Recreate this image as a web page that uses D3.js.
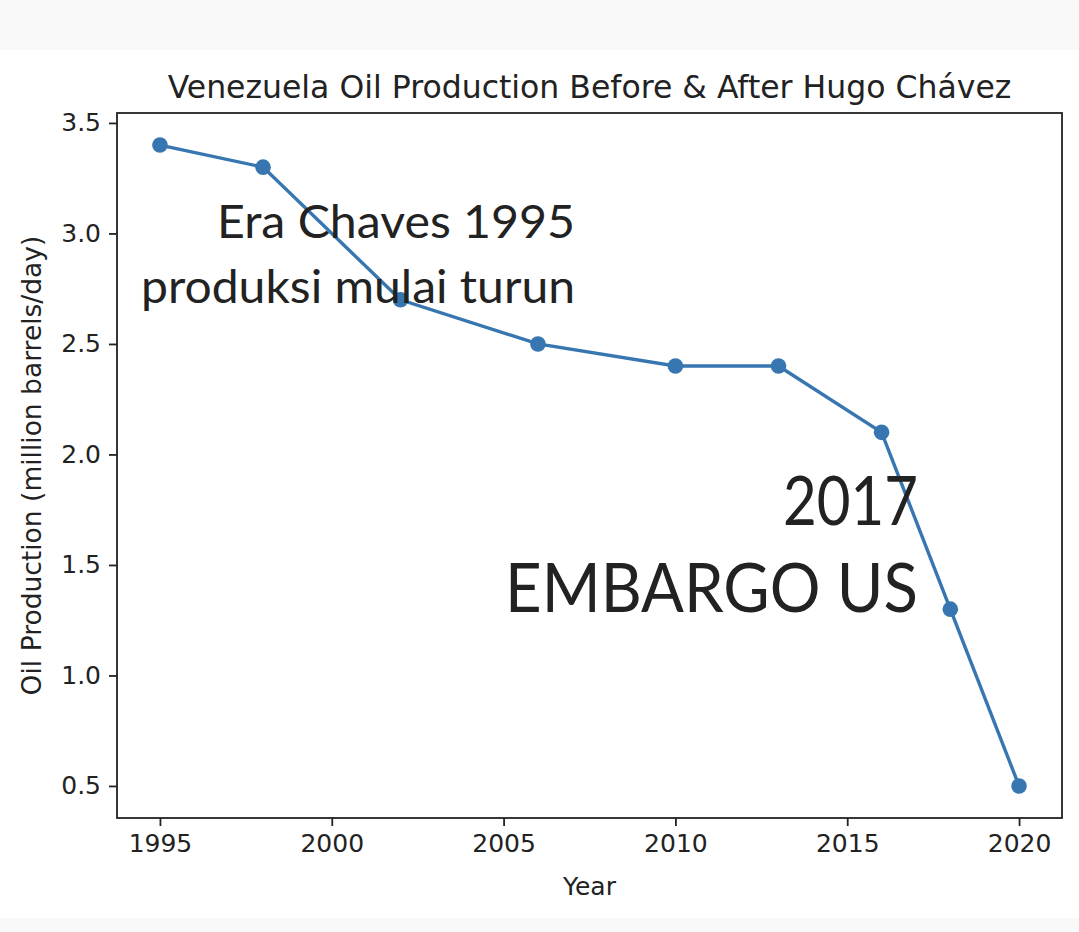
<!DOCTYPE html>
<html>
  <head>
    <title>Venezuela Oil Production</title>
    <script src="https://cdn.jsdelivr.net/npm/d3@7/dist/d3.min.js"></script>
    <style>
      body { margin: 0; background: #fff; }
    </style>
  </head>
  <body>
    <svg width="1079" height="932" id="mainsvg" style="display: block"></svg>
    <script>
      // data
      const years = [1995, 1998, 2002, 2006, 2010, 2013, 2016, 2018, 2020];
      const production = [3.4, 3.3, 2.7, 2.5, 2.4, 2.4, 2.1, 1.3, 0.5];
      const xTicks = [1995, 2000, 2005, 2010, 2015, 2020];
      const yTicks = [0.5, 1.0, 1.5, 2.0, 2.5, 3.0, 3.5];

      const svg = d3.select("#mainsvg");
      const width = +svg.attr("width");
      const height = +svg.attr("height");
      const margin = { left: 117, top: 113, right: 17, bottom: 114 };
      const innerWidth = width - margin.left - margin.right;
      const innerHeight = height - margin.top - margin.bottom;
      const blue = "#3776b0";
      const axisFont = "'DejaVu Sans', sans-serif";

      // grey bands of the screenshot
      svg.append("rect").attr("width", width).attr("height", 50).attr("fill", "#f9f9f9");
      svg.append("rect").attr("y", 918).attr("width", width).attr("height", 14).attr("fill", "#f9f9f9");

      // matplotlib style 5% margins
      const xPad = (d3.max(years) - d3.min(years)) * 0.05;
      const yPad = (d3.max(production) - d3.min(production)) * 0.05;
      const x = d3.scaleLinear()
        .domain([d3.min(years) - xPad, d3.max(years) + xPad])
        .range([0, innerWidth]);
      const y = d3.scaleLinear()
        .domain([d3.min(production) - yPad, d3.max(production) + yPad])
        .range([innerHeight, 0]);

      const g = svg.append("g")
        .attr("transform", `translate(${margin.left}, ${margin.top})`);

      // axes
      const xAxis = g.append("g")
        .attr("transform", `translate(0, ${innerHeight})`)
        .call(d3.axisBottom(x).tickValues(xTicks).tickFormat(d3.format("d")).tickSize(8).tickPadding(8));
      const yAxis = g.append("g")
        .call(d3.axisLeft(y).tickValues(yTicks).tickFormat(d3.format(".1f")).tickSize(8).tickPadding(8));

      [xAxis, yAxis].forEach((ax) => {
        ax.select(".domain").remove();
        ax.selectAll("line").attr("stroke", "#222").attr("stroke-width", 1.8);
        ax.selectAll("text")
          .attr("fill", "#222")
          .attr("font-family", axisFont)
          .attr("font-size", 25);
      });

      // frame
      g.append("rect")
        .attr("width", innerWidth)
        .attr("height", innerHeight)
        .attr("fill", "none")
        .attr("stroke", "#222")
        .attr("stroke-width", 1.8);

      const pts = years.map((yr, i) => ({ year: yr, value: production[i] }));

      const line = d3.line()
        .x((d) => x(d.year))
        .y((d) => y(d.value));

      g.append("path")
        .datum(pts)
        .attr("fill", "none")
        .attr("stroke", blue)
        .attr("stroke-width", 3.4)
        .attr("d", line);

      g.selectAll(".dot")
        .data(pts)
        .join("circle")
        .attr("class", "dot")
        .attr("cx", (d) => x(d.year))
        .attr("cy", (d) => y(d.value))
        .attr("r", 7.8)
        .attr("fill", blue);

      // title and axis labels
      svg.append("text")
        .attr("x", margin.left + innerWidth / 2)
        .attr("y", 98)
        .attr("text-anchor", "middle")
        .attr("font-family", axisFont)
        .attr("font-size", 31.5)
        .attr("fill", "#222")
        .text("Venezuela Oil Production Before & After Hugo Chávez");

      svg.append("text")
        .attr("x", margin.left + innerWidth / 2)
        .attr("y", 895)
        .attr("text-anchor", "middle")
        .attr("font-family", axisFont)
        .attr("font-size", 25)
        .attr("fill", "#222")
        .text("Year");

      svg.append("text")
        .attr("transform", `translate(41, ${margin.top + innerHeight / 2}) rotate(-90)`)
        .attr("text-anchor", "middle")
        .attr("font-family", axisFont)
        .attr("font-size", 26.5)
        .attr("fill", "#222")
        .text("Oil Production (million barrels/day)");

      // hand written notes on top of the chart
      const noteFont = "Lato, 'Open Sans', sans-serif";
      const notes = [
        { text: "Era Chaves 1995", x: 575, y: 238, size: 47, len: 358 },
        { text: "produksi mulai turun", x: 575, y: 303, size: 47, len: 434 },
        { text: "2017", x: 918, y: 525, size: 68, len: 135 },
        { text: "EMBARGO US", x: 918, y: 612, size: 68, len: 413 },
      ];
      svg.selectAll(".note")
        .data(notes)
        .join("text")
        .attr("class", "note")
        .attr("x", (d) => d.x - d.len)
        .attr("y", (d) => d.y)
        .attr("textLength", (d) => d.len)
        .attr("lengthAdjust", "spacingAndGlyphs")
        .attr("font-family", noteFont)
        .attr("font-size", (d) => d.size)
        .attr("fill", "#222")
        .text((d) => d.text);
    </script>
  </body>
</html>
